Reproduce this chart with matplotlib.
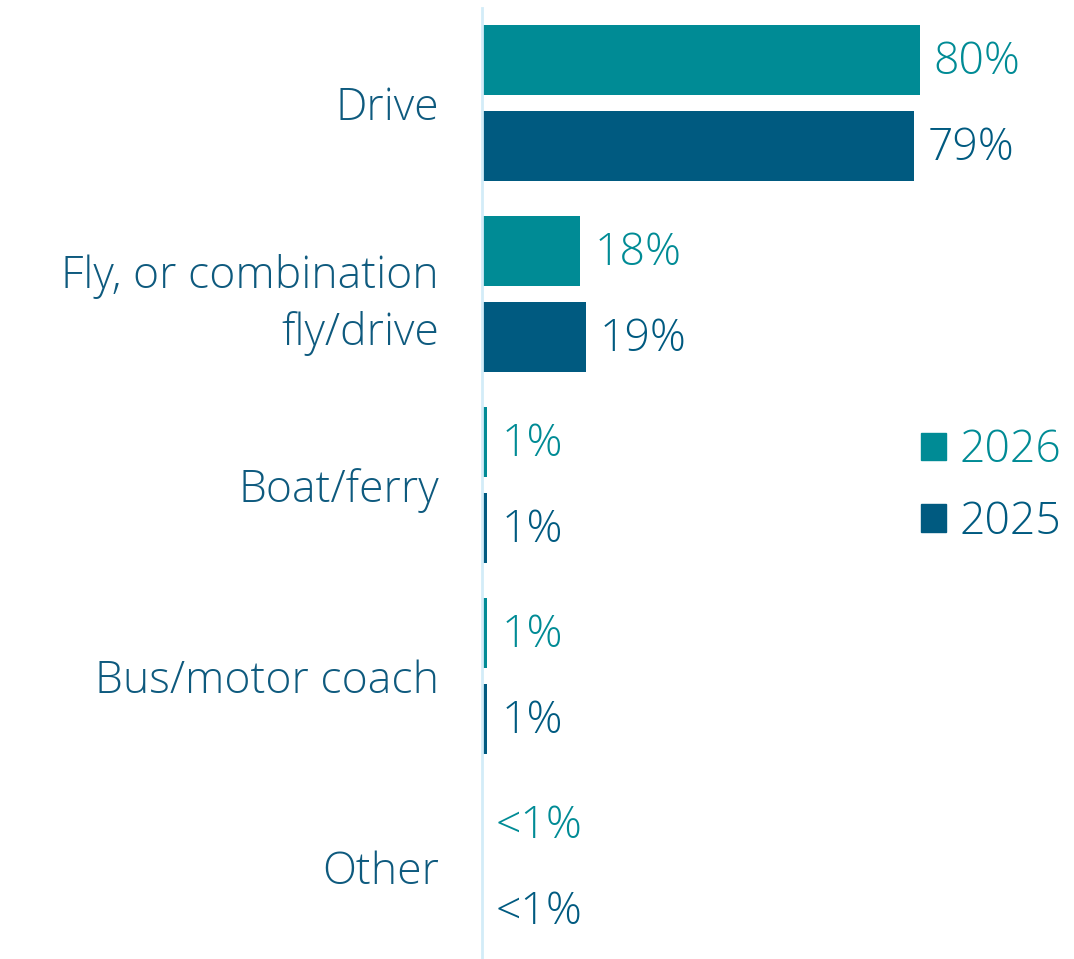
import matplotlib
matplotlib.use("Agg")
import matplotlib.pyplot as plt
from matplotlib.patches import Patch
import numpy as np

plt.rcParams['font.family'] = ['Open Sans', 'DejaVu Sans']
plt.rcParams['font.weight'] = 300

categories = ["Drive", "Fly, or combination\nfly/drive", "Boat/ferry",
              "Bus/motor coach", "Other"]
vals_2026 = [80, 18, 1, 1, 0]
vals_2025 = [79, 19, 1, 1, 0]
labels_2026 = ["80%", "18%", "1%", "1%", "<1%"]
labels_2025 = ["79%", "19%", "1%", "1%", "<1%"]

teal = "#008B95"
navy = "#005A80"
text_col = "#0E5A7E"

fig = plt.figure(figsize=(10.74, 9.59), dpi=100)
# axes spans from the vertical axis line to the right edge
ax = fig.add_axes([482 / 1074, 0, 1 - 482 / 1074, 1 - 8 / 959])

ind = np.arange(len(categories))
h = 0.366
off = 0.225
b1 = ax.barh(ind - off, vals_2026, h, color=teal)
b2 = ax.barh(ind + off, vals_2025, h, color=navy)

for i in range(len(categories)):
    ax.annotate(labels_2026[i], (vals_2026[i], ind[i] - off), xytext=(10, -2),
                textcoords="offset points", va="center", ha="left",
                fontsize=32, color=teal)
    ax.annotate(labels_2025[i], (vals_2025[i], ind[i] + off), xytext=(10, -2),
                textcoords="offset points", va="center", ha="left",
                fontsize=32, color=navy)

ax.set_xlim(0, 592 / 5.47)
ax.set_ylim(4.482, -0.497)
ax.set_yticks(ind)
ax.set_yticklabels(categories, fontsize=32, color=text_col, linespacing=1.33)
ax.tick_params(axis="y", length=0, pad=31)
ax.set_xticks([])
for s in ["top", "right", "bottom"]:
    ax.spines[s].set_visible(False)
ax.spines["left"].set_color("#D3ECF8")
ax.spines["left"].set_linewidth(2)

handles = [Patch(color=teal, label="2026"), Patch(color=navy, label="2025")]
leg = fig.legend(handles=handles, loc="upper left", bbox_to_anchor=(921 / 1074, 1 - 429 / 959),
                 frameon=False, fontsize=32, handlelength=0.57, handleheight=0.57,
                 handletextpad=0.3, labelspacing=0.6, borderpad=0, borderaxespad=0)
for t, c in zip(leg.get_texts(), [teal, navy]):
    t.set_color(c)

fig.savefig("out.png", dpi=100)
